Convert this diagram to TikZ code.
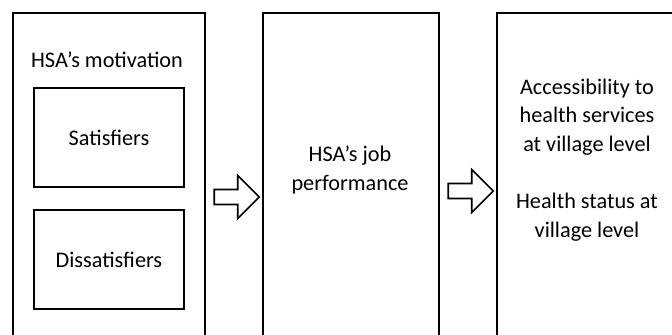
\documentclass[tikz,border=0pt]{standalone}
\usepackage{fontspec}
\setmainfont{Carlito}
\usetikzlibrary{shapes.arrows}

\begin{document}
\begin{tikzpicture}[x=0.03cm,y=-0.03cm,line width=1.6pt,
    stage/.style={draw,rectangle,anchor=north west,inner sep=0pt,minimum height=360*0.03cm},
    factor/.style={draw,rectangle,anchor=north west,minimum width=150*0.03cm,minimum height=99*0.03cm,font=\fontsize{19}{23}\selectfont},
    lbl/.style={align=center,font=\fontsize{19}{24.5}\selectfont},
    blockarrow/.style={draw,single arrow,single arrow tip angle=90,single arrow head extend=0.42cm,inner sep=0.2cm,minimum height=45*0.03cm,line width=1.4pt}]

    %\draw [help lines] (0,0) grid (672,334);
    \useasboundingbox (0,0) rectangle (672,334);
    \clip (0,0) rectangle (672,334);

    \path   (12,12)  node (motivation) [stage,minimum width=192*0.03cm] {}
            (262,12) node (job) [stage,minimum width=176*0.03cm] {}
            (496,12) node (outcome) [stage,minimum width=200*0.03cm] {}
            (33,87)  node (satisfiers) [factor] {Satisfiers}
            (33,209) node (dissatisfiers) [factor] {Dissatisfiers};

    \path   (107,60)  node (motivationlbl) [lbl] {HSA’s motivation}
            (350,170) node (joblbl) [lbl] {HSA’s job\\performance}
            (587,160) node (outcomelbl) [lbl] {Accessibility to\\health services\\at village level\\[24.5pt]Health status at\\village level};

    \path   (233,197) node (arrowa) [blockarrow] {}
            (467,191) node (arrowb) [blockarrow] {};
\end{tikzpicture}
\end{document}
